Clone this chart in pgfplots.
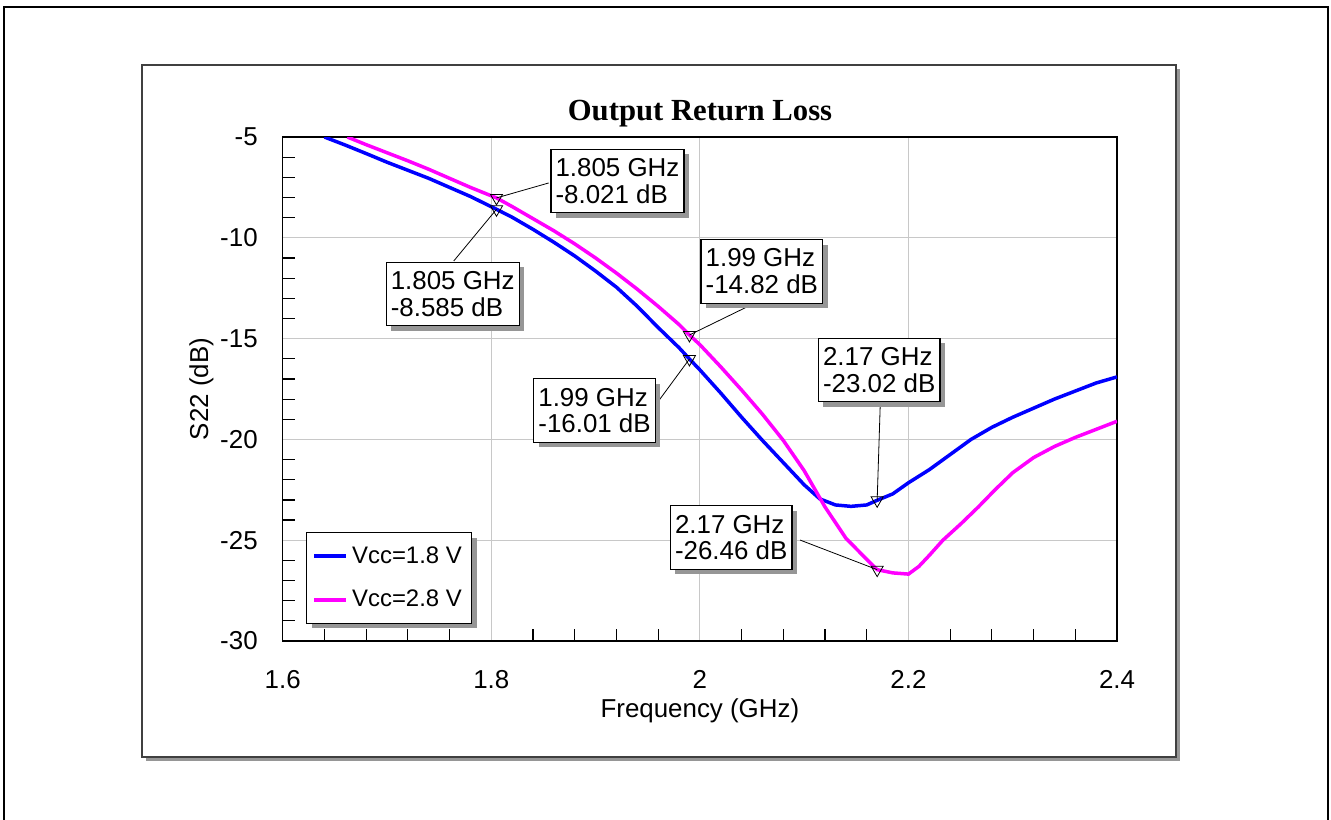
\documentclass[border=0pt]{standalone}
\usepackage{pgfplots}
\pgfplotsset{compat=1.18}
\usepackage{fontspec}
\setmainfont{Liberation Sans}
\newfontfamily\serifbf{Liberation Serif}
\usetikzlibrary{shadows}
\definecolor{vblue}{RGB}{0,0,255}
\definecolor{vmag}{RGB}{255,0,255}
\definecolor{gridc}{RGB}{200,200,200}
\definecolor{shadowc}{RGB}{150,150,150}
\makeatletter
\tikzset{no preactions/.code={\let\tikz@preactions\pgfutil@empty}}
\makeatother

\begin{document}
\begin{tikzpicture}[
  anno/.style={draw=black, line width=0.6bp, fill=white,
    drop shadow={shadow xshift=2.5bp, shadow yshift=-2.5bp, fill=shadowc, opacity=1},
    align=left, font=\fontsize{13}{13.5}\selectfont, inner xsep=2.3bp, inner ysep=4.6bp},
  lead/.style={black, line width=0.4bp}]
\begin{scope}[x=0.5bp,y=-0.5bp]
  \useasboundingbox (0,0) rectangle (1331,819);
  \draw[line width=1bp] (4.3,7) rectangle (1327.7,830);
  \fill[shadowc] (146,69) rectangle (1180,761);
  \draw[fill=white, draw=black!75, line width=0.6bp] (142,65) rectangle (1176,757);
  \node[font=\fontsize{15.4}{18}\selectfont\serifbf\bfseries] at (700,114) {Output Return Loss};
\end{scope}
\begin{axis}[
  at={(141.35bp,-320.5bp)}, anchor=south west,
  scale only axis, width=417.15bp, height=252bp,
  xmin=1.6, xmax=2.4, ymin=-30, ymax=-5,
  xtick={1.6,1.8,2,2.2,2.4},
  ytick={-30,-25,-20,-15,-10,-5},
  minor x tick num=4, minor y tick num=4,
  major tick length=0pt, minor tick length=6bp,
  tick align=inside, tick pos=left,
  minor tick style={black, line width=0.6bp},
  grid=major, major grid style={gridc, line width=0.5bp},
  axis line style={black, line width=0.75bp},
  /pgf/number format/assume math mode=true,
  ticklabel style={font=\fontsize{13}{15}\selectfont},
  yticklabel style={xshift=-9bp},
  xticklabel style={yshift=-11bp},
  xlabel={Frequency (GHz)}, ylabel={S22 (dB)},
  label style={font=\fontsize{13}{15}\selectfont},
  xlabel style={at={(axis description cs:0.5,-0.1508)}, anchor=base},
  ylabel style={at={(axis description cs:-0.0894,0.5)}, anchor=base, rotate=0},
  legend style={at={(0.028,0.216)}, anchor=north west, draw=black,
    line width=0.6bp, fill=white,
    drop shadow={shadow xshift=2.5bp, shadow yshift=-2.5bp, fill=shadowc, opacity=1},
    font=\fontsize{12}{14}\selectfont, inner xsep=3bp, inner ysep=4.8bp,
    row sep=8bp},
  legend cell align=left,
  legend image code/.code={\draw[no preactions,#1] (0bp,0bp) -- (16bp,0bp);},
]
\addplot[vblue, line width=1.75bp] coordinates {
(1.640,-5.00) (1.660,-5.40) (1.680,-5.82) (1.700,-6.25) (1.720,-6.65)
(1.740,-7.05) (1.760,-7.50) (1.780,-7.95) (1.805,-8.585) (1.820,-8.98)
(1.840,-9.58) (1.860,-10.22) (1.880,-10.90) (1.900,-11.65) (1.920,-12.45)
(1.940,-13.40) (1.960,-14.45) (1.980,-15.45) (1.990,-16.01) (2.000,-16.55)
(2.020,-17.70) (2.040,-18.90) (2.060,-20.05) (2.080,-21.15) (2.100,-22.25)
(2.115,-22.95) (2.130,-23.25) (2.145,-23.32) (2.160,-23.25) (2.170,-23.02)
(2.185,-22.70) (2.200,-22.15) (2.220,-21.50) (2.240,-20.75) (2.260,-20.00)
(2.280,-19.40) (2.300,-18.90) (2.320,-18.45) (2.340,-18.00) (2.360,-17.60)
(2.380,-17.20) (2.400,-16.90)
};
\addlegendentry{Vcc=1.8 V}
\addplot[vmag, line width=1.75bp] coordinates {
(1.662,-5.00) (1.680,-5.38) (1.700,-5.78) (1.720,-6.18) (1.740,-6.60)
(1.760,-7.05) (1.780,-7.50) (1.805,-8.021) (1.820,-8.45) (1.840,-9.05)
(1.860,-9.65) (1.880,-10.30) (1.900,-11.00) (1.920,-11.75) (1.940,-12.55)
(1.960,-13.40) (1.980,-14.30) (1.990,-14.82) (2.000,-15.30) (2.020,-16.40)
(2.040,-17.55) (2.060,-18.75) (2.080,-20.05) (2.100,-21.55) (2.120,-23.35)
(2.140,-24.90) (2.160,-25.95) (2.170,-26.46) (2.185,-26.62) (2.200,-26.68)
(2.210,-26.30) (2.220,-25.75) (2.233,-25.00) (2.250,-24.20) (2.267,-23.35)
(2.283,-22.50) (2.300,-21.65) (2.320,-20.90) (2.340,-20.35) (2.360,-19.90)
(2.380,-19.50) (2.400,-19.10)
};
\addlegendentry{Vcc=2.8 V}
\addplot[only marks, mark=triangle, mark size=3.5bp, forget plot,
  mark options={rotate=180, draw=black, fill=none, line width=0.4bp}] coordinates {
(1.805,-8.021) (1.805,-8.585) (1.99,-14.82) (1.99,-16.01) (2.17,-23.02) (2.17,-26.46)
};
% marker readouts
\draw[lead] (axis cs:1.855,-7.28) -- (axis cs:1.805,-8.021);
\draw[lead] (axis cs:1.764,-11.15) -- (axis cs:1.805,-8.585);
\draw[lead] (axis cs:2.051,-13.28) -- (axis cs:1.99,-14.82);
\draw[lead] (axis cs:1.959,-18.19) -- (axis cs:1.99,-16.01);
\draw[lead] (axis cs:2.173,-18.19) -- (axis cs:2.17,-23.02);
\draw[lead] (axis cs:2.096,-24.99) -- (axis cs:2.17,-26.46);
\node[anno] at (axis cs:1.921,-7.18) {1.805 GHz\\-8.021 dB};
\node[anno] at (axis cs:1.763,-12.79) {1.805 GHz\\-8.585 dB};
\node[anno] at (axis cs:2.0594,-11.67) {1.99 GHz\\-14.82 dB};
\node[anno] at (axis cs:1.899,-18.57) {1.99 GHz\\-16.01 dB};
\node[anno] at (axis cs:2.172,-16.56) {2.17 GHz\\-23.02 dB};
\node[anno] at (axis cs:2.030,-24.87) {2.17 GHz\\-26.46 dB};
\end{axis}
\end{tikzpicture}
\end{document}
